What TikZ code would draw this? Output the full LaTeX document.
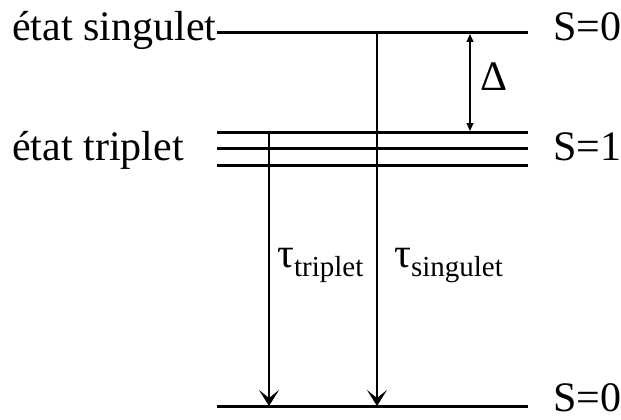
\documentclass[tikz,border=0pt]{standalone}
\usepackage{fontspec}
\setmainfont{Liberation Serif}
\usetikzlibrary{arrows.meta}
\begin{document}
\begin{tikzpicture}[x=1pt,y=-1pt,
  level/.style={line width=3pt},
  trans/.style={line width=1.3pt,-{Stealth[length=16pt,width=20pt,inset=8pt]}},
  gap/.style={line width=1.1pt,{Triangle[length=8pt,width=7pt]}-{Triangle[length=8pt,width=7pt]}},
  big/.style={font=\fontsize{42}{46}\selectfont,inner sep=0pt},
  tau/.style={font=\fontsize{42}{46}\selectfont,inner sep=0pt}]
\useasboundingbox (0,0) rectangle (621,420);
% level endpoints
\coordinate (s0L) at (217,33);  \coordinate (s0R) at (528,33);
\coordinate (t1L) at (217,132); \coordinate (t1R) at (528,132);
\coordinate (t2L) at (217,148.5); \coordinate (t2R) at (528,148.5);
\coordinate (t3L) at (217,165); \coordinate (t3R) at (528,165);
\coordinate (gL) at (217,406);  \coordinate (gR) at (528,406);
\draw[level] (s0L) -- (s0R);
\draw[level] (t1L) -- (t1R);
\draw[level] (t2L) -- (t2R);
\draw[level] (t3L) -- (t3R);
\draw[level] (gL) -- (gR);
% labels
\node[big,anchor=base west] (singulet) at (12,41) {état singulet};
\node[big,anchor=base west] (triplet) at (12,160) {état triplet};
\node[big,anchor=base west] (S0top) at (553,41) {S=0};
\node[big,anchor=base west] (S1) at (553,160) {S=1};
\node[big,anchor=base west] (S0bot) at (553,411) {S=0};
% transitions
\coordinate (ts) at (269,132); \coordinate (te) at (269,406);
\coordinate (ss) at (377,33);  \coordinate (se) at (377,406);
\draw[trans] (ts) -- (te);
\draw[trans] (ss) -- (se);
\node[tau,anchor=base west] (tautrip) at (277,267) {τ\raisebox{-9pt}{\fontsize{29}{32}\selectfont triplet}};
\node[tau,anchor=base west] (tausing) at (394,267) {τ\raisebox{-9pt}{\fontsize{29}{32}\selectfont singulet}};
% gap
\coordinate (ga) at (470,34); \coordinate (gb) at (470,131);
\draw[gap] (ga) -- (gb);
\node[big,anchor=base west] (delta) at (480,90) {Δ};
\end{tikzpicture}
\end{document}
